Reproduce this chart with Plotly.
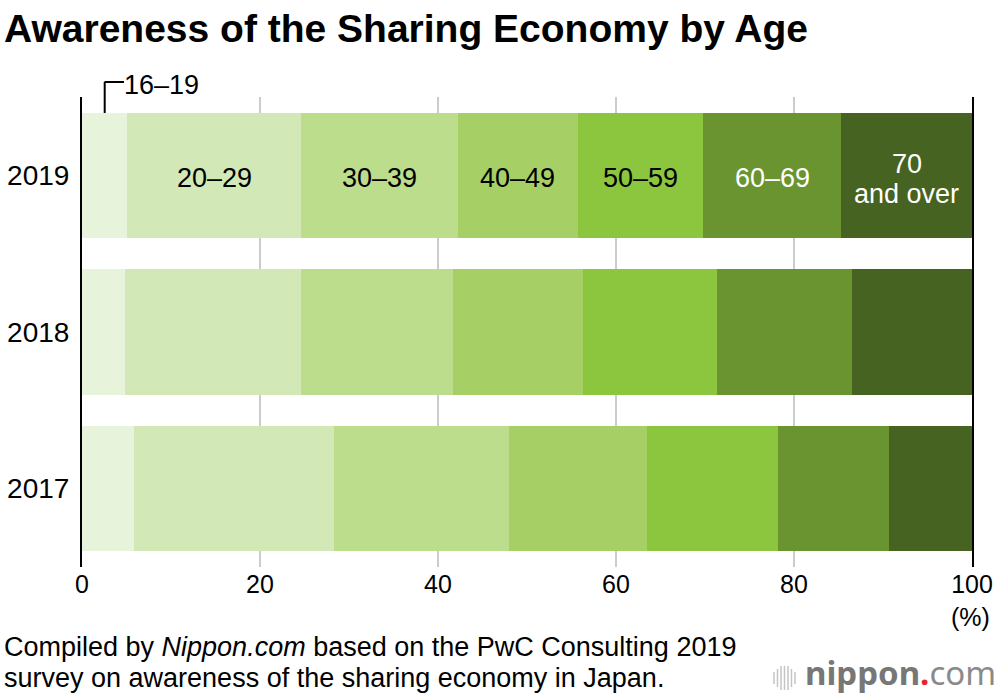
import plotly.graph_objects as go

years = ["2019", "2018", "2017"]
age_groups = ["16–19", "20–29", "30–39", "40–49", "50–59", "60–69", "70 and over"]
values = {
    "16–19":       [5.1, 4.8, 5.8],
    "20–29":       [19.5, 19.8, 22.5],
    "30–39":       [17.6, 17.1, 19.7],
    "40–49":       [13.5, 14.6, 15.5],
    "50–59":       [14.1, 15.1, 14.7],
    "60–69":       [15.5, 15.1, 12.5],
    "70 and over": [14.7, 13.5, 9.3],
}
colors = ["#E7F3DA", "#D2E8B6", "#BCDD8B", "#A6CF66", "#8CC63F", "#6A942F", "#466321"]
label_colors = ["black", "black", "black", "black", "black", "white", "white"]
x_ticks = [0, 20, 40, 60, 80, 100]
category_order = ["2017", "2018", "2019"]

FONT = "Liberation Sans"
L, R, T, B = 82, 28, 97, 133
W, H = 1000, 700
PW, PH = W - L - R, H - T - B

def px_to_paper_x(px):
    return (px - L) / PW

def px_to_paper_y(py):
    return (H - B - py) / PH

fig = go.Figure()
for g, c in zip(age_groups, colors):
    fig.add_trace(go.Bar(
        y=years, x=values[g], name=g, orientation="h",
        marker=dict(color=c, line=dict(width=0)),
        hoverinfo="x+name",
    ))

annotations = []
row_2019 = category_order.index("2019")
cum = 0
for i, (g, lc) in enumerate(zip(age_groups, label_colors)):
    v = values[g][0]
    center = cum + v / 2
    cum += v
    if i == 0:
        continue
    if g == "70 and over":
        parts = [("70", 11.5), ("and over", -18.5)]
    else:
        parts = [(g, -3)]
    for txt, ys in parts:
        annotations.append(dict(
            x=center, y=row_2019, xref="x", yref="y", text=txt, showarrow=False,
            yshift=ys,
            font=dict(family=FONT, size=27, color=lc), xanchor="center", yanchor="middle",
        ))

first_center = values["16–19"][0] / 2
annotations.append(dict(
    x=px_to_paper_x(122), y=px_to_paper_y(85), xref="paper", yref="paper",
    text="16–19", showarrow=False, xanchor="left", yanchor="middle",
    font=dict(family=FONT, size=27, color="black"),
))
shapes = [
    dict(type="line", xref="x", yref="paper", x0=first_center, x1=first_center,
         y0=px_to_paper_y(113), y1=px_to_paper_y(82), line=dict(color="black", width=2)),
    dict(type="line", xref="paper", yref="paper",
         x0=px_to_paper_x(104.5), x1=px_to_paper_x(124),
         y0=px_to_paper_y(82), y1=px_to_paper_y(82), line=dict(color="black", width=2)),
]

annotations.append(dict(
    x=px_to_paper_x(992), y=px_to_paper_y(617), xref="paper", yref="paper",
    text="(%)", showarrow=False, xanchor="right", yanchor="middle",
    font=dict(family=FONT, size=25, color="black"),
))

foot_lines = ["Compiled by <i>Nippon.com</i> based on the PwC Consulting 2019",
              "survey on awareness of the sharing economy in Japan."]
for line, ypx in zip(foot_lines, [647, 678]):
    annotations.append(dict(
        x=px_to_paper_x(2), y=px_to_paper_y(ypx), xref="paper", yref="paper",
        text=line, showarrow=False, xanchor="left", yanchor="middle", align="left",
        font=dict(family=FONT, size=27, color="black"),
    ))

annotations.append(dict(
    x=px_to_paper_x(998), y=px_to_paper_y(672), xref="paper", yref="paper",
    text="<b>nippon</b><span style='color:#e8232a'><b>.</b></span><span style='color:#8a8a8a'>com</span>",
    showarrow=False, xanchor="right", yanchor="middle",
    font=dict(family="Noto Sans", size=33, color="#777777"),
))
bar_x = [774, 777.5, 781, 784.5, 788, 791.5, 795]
bar_h = [12, 18, 24, 24, 24, 18, 12]
for bx, bh in zip(bar_x, bar_h):
    shapes.append(dict(type="line", xref="paper", yref="paper",
                       x0=px_to_paper_x(bx), x1=px_to_paper_x(bx),
                       y0=px_to_paper_y(678 - bh / 2), y1=px_to_paper_y(678 + bh / 2),
                       line=dict(color="#c4c4c4", width=1.5)))

fig.update_layout(
    width=W, height=H,
    margin=dict(l=L, r=R, t=T, b=B, autoexpand=False),
    barmode="stack", bargap=0.2,
    showlegend=False,
    plot_bgcolor="white", paper_bgcolor="white",
    title=dict(text="<b>Awareness of the Sharing Economy by Age</b>",
               x=0.004, xanchor="left", y=1 - 28 / H, yanchor="middle",
               font=dict(family=FONT, size=39, color="black")),
    xaxis=dict(range=[0, 100], tickvals=x_ticks, ticktext=[str(t) for t in x_ticks],
               showgrid=True, gridcolor="#cccccc", gridwidth=2, zeroline=False,
               showline=False, ticks="", tickfont=dict(family=FONT, size=25, color="black"),
               fixedrange=True, automargin=False),
    yaxis=dict(type="category", categoryorder="array", categoryarray=category_order,
               range=[-0.5, 2.5], autorange=False,
               showline=True, mirror=True, linecolor="black", linewidth=2,
               showgrid=False, ticks="", ticklabelstandoff=5, automargin=False,
               tickfont=dict(family=FONT, size=28, color="black"), fixedrange=True),
    annotations=annotations,
    shapes=shapes,
    font=dict(family=FONT),
)

fig.write_html("out.html", config={"displayModeBar": False},
               post_script="document.body.style.margin='0';")
